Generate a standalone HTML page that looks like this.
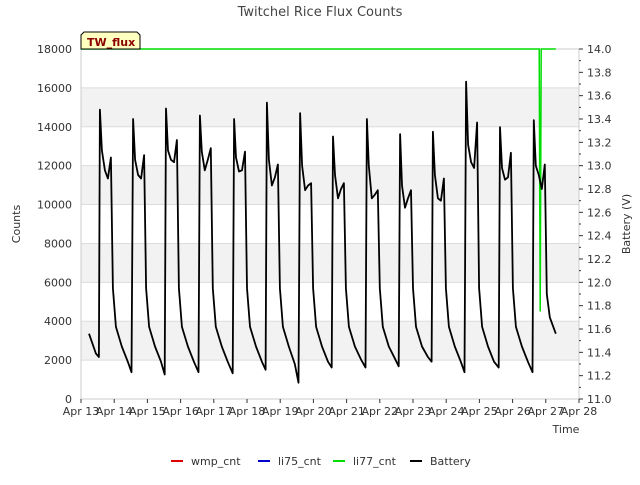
<!DOCTYPE html>
<html><head><meta charset="utf-8"><style>
body{margin:0;background:#fff;font-family:"Liberation Sans","DejaVu Sans",sans-serif}
svg text{font-family:"DejaVu Sans","Liberation Sans",sans-serif}
</style></head><body>
<svg id="c" width="640" height="480" xmlns="http://www.w3.org/2000/svg"></svg>
<script>
const xLabels=["Apr 13","Apr 14","Apr 15","Apr 16","Apr 17","Apr 18","Apr 19","Apr 20","Apr 21","Apr 22","Apr 23","Apr 24","Apr 25","Apr 26","Apr 27","Apr 28"];
const leftTicks=[0,2000,4000,6000,8000,10000,12000,14000,16000,18000];
const rightTicks=[11.0,11.2,11.4,11.6,11.8,12.0,12.2,12.4,12.6,12.8,13.0,13.2,13.4,13.6,13.8,14.0];
const battT=[0.24,0.45,0.54,
0.57,0.63,0.72,0.81,0.90,0.96,1.05,1.23,1.41,1.52,
1.57,1.63,1.72,1.81,1.90,1.96,2.05,2.23,2.41,2.52,
2.56,2.62,2.71,2.80,2.89,2.95,3.04,3.22,3.40,3.54,
3.58,3.64,3.73,3.82,3.91,3.97,4.06,4.24,4.42,4.57,
4.61,4.67,4.76,4.85,4.94,5.00,5.09,5.27,5.45,5.56,
5.60,5.66,5.75,5.84,5.93,5.99,6.08,6.26,6.44,6.55,
6.60,6.66,6.75,6.84,6.93,6.99,7.08,7.26,7.44,7.55,
7.59,7.65,7.74,7.83,7.92,7.98,8.07,8.25,8.43,8.57,
8.61,8.67,8.76,8.85,8.94,9.00,9.09,9.27,9.45,9.57,
9.61,9.67,9.76,9.85,9.94,10.00,10.09,10.27,10.45,10.56,
10.60,10.66,10.75,10.84,10.93,10.99,11.08,11.26,11.44,11.55,
11.60,11.66,11.75,11.84,11.93,11.99,12.08,12.26,12.44,12.58,
12.62,12.68,12.77,12.86,12.95,13.01,13.10,13.28,13.46,13.60,
13.64,13.70,13.79,13.88,13.97,14.03,14.12,14.30];
const battV=[11.56,11.39,11.36,
13.48,13.13,12.96,12.89,13.07,11.95,11.62,11.45,11.32,11.23,
13.40,13.05,12.92,12.89,13.09,11.95,11.62,11.45,11.32,11.21,
13.49,13.13,13.05,13.03,13.22,11.95,11.62,11.45,11.32,11.23,
13.43,13.12,12.96,13.05,13.15,11.95,11.62,11.45,11.32,11.22,
13.40,13.07,12.95,12.96,13.12,11.95,11.62,11.45,11.32,11.25,
13.54,13.05,12.83,12.90,13.01,11.95,11.62,11.45,11.30,11.14,
13.45,13.00,12.79,12.83,12.85,11.95,11.62,11.45,11.32,11.27,
13.25,12.92,12.72,12.80,12.85,11.95,11.62,11.45,11.34,11.27,
13.40,13.00,12.72,12.75,12.79,11.95,11.62,11.45,11.35,11.28,
13.27,12.83,12.64,12.72,12.79,11.95,11.62,11.45,11.36,11.32,
13.29,12.92,12.72,12.70,12.89,11.95,11.62,11.45,11.32,11.23,
13.72,13.18,13.03,12.98,13.37,11.95,11.62,11.45,11.32,11.27,
13.33,12.98,12.88,12.90,13.11,11.95,11.62,11.45,11.32,11.23,
13.39,13.00,12.92,12.80,13.01,11.90,11.70,11.56];
const greenT=[0.0,2.0,4.0,6.0,8.0,10.0,12.0,13.80,13.83,13.86,14.30];
const greenV=[18000,18000,18000,18000,18000,18000,18000,18000,4500,18000,18000];

const L=81,R=579,T=49,B=399;
const xS=d=>L+d*(R-L)/15;
const yL=c=>B-c/18000*(B-T);
const yR=v=>B-(v-11)/3*(B-T);
const svg=document.getElementById('c');
const NS='http://www.w3.org/2000/svg';
function mk(tag,attrs,parent){const e=document.createElementNS(NS,tag);for(const k in attrs)e.setAttribute(k,attrs[k]);(parent||svg).appendChild(e);return e;}
function txt(s,attrs,parent){const e=mk('text',attrs,parent);e.textContent=s;return e;}

// bands
for(let i=0;i<leftTicks.length-1;i++){
  if(i%2===1){const b=mk('rect',{x:L,y:yL(leftTicks[i+1]),width:R-L,height:yL(leftTicks[i])-yL(leftTicks[i+1]),fill:'#f2f2f2'});
  
  }
}
leftTicks.forEach(v=>{const g=mk('line',{x1:L,x2:R,y1:yL(v),y2:yL(v),stroke:'#dcdcdc','stroke-width':1});

});
mk('rect',{x:L,y:T,width:R-L,height:B-T,fill:'none',stroke:'#ccc','stroke-width':1});

// left axis labels
leftTicks.forEach(v=>{const t=txt(String(v),{x:72,y:yL(v)+4,'text-anchor':'end','font-size':11,fill:'#333'});

});
// right axis
rightTicks.forEach(v=>{mk('line',{x1:R,x2:R+4,y1:yR(v),y2:yR(v),stroke:'#333'});
const t=txt(v.toFixed(1),{x:587,y:yR(v)+4,'font-size':11,fill:'#333'});


if(v<14){mk('line',{x1:R,x2:R+2,y1:yR(v+0.1),y2:yR(v+0.1),stroke:'#333'});}});
// x axis
xLabels.forEach((s,i)=>{mk('line',{x1:xS(i),x2:xS(i),y1:B,y2:B+4,stroke:'#333'});
const t=txt(s,{x:xS(i),y:415,'text-anchor':'middle','font-size':11,fill:'#333'});

});

// series
let gp='';greenT.forEach((t,i)=>{gp+=(i?'L':'M')+xS(t).toFixed(1)+' '+yL(greenV[i]).toFixed(1);});
const gl=mk('path',{d:gp,fill:'none',stroke:'#00dd00','stroke-width':1.5});


let bp='';battT.forEach((t,i)=>{bp+=(i?'L':'M')+xS(t).toFixed(1)+' '+yR(battV[i]).toFixed(1);});
const bl=mk('path',{d:bp,fill:'none',stroke:'#000','stroke-width':1.8,'stroke-linejoin':'round'});



// titles
let t=txt('Twitchel Rice Flux Counts',{x:320,y:16,'text-anchor':'middle','font-size':13,fill:'#444'});


t=txt('Counts',{x:20,y:224,'text-anchor':'middle','font-size':11,fill:'#333',transform:'rotate(-90 20 224)'});


t=txt('Battery (V)',{x:630,y:224,'text-anchor':'middle','font-size':11,fill:'#333',transform:'rotate(-90 630 224)'});


t=txt('Time',{x:566,y:433,'text-anchor':'middle','font-size':11,fill:'#333'});



// tag box
const tg=mk('g',{});


mk('path',{d:'M81 49 L81 35 L84 32 L137 32 L140 35 L140 49 Z',fill:'#ffffc0',stroke:'#000','stroke-width':1},tg);
txt('TW_flux',{x:87,y:46,'font-size':11,'font-weight':'bold',fill:'#8b0000'},tg);

// legend
const leg=[['wmp_cnt','#dd0000',171],['li75_cnt','#0000cc',258],['li77_cnt','#00dd00',333],['Battery','#000',410]];
leg.forEach(([n,c,x])=>{const g=mk('g',{});


mk('line',{x1:x,x2:x+12,y1:461,y2:461,stroke:c,'stroke-width':2},g);
txt(n,{x:x+20,y:465,'font-size':11,fill:'#333'},g);});
</script>
</body></html>
